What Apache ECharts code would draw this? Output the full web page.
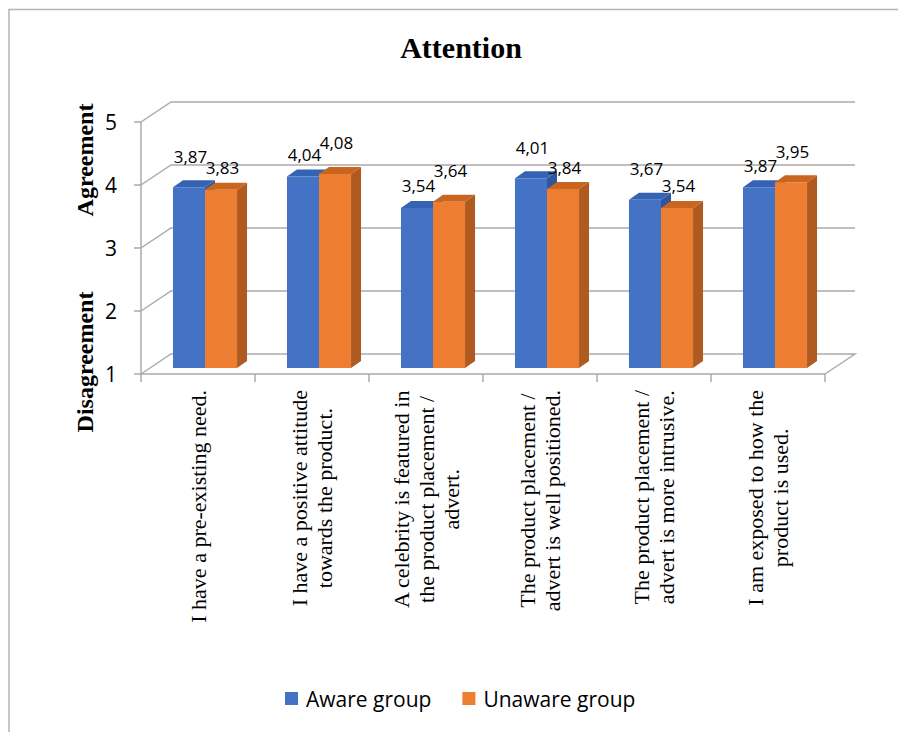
<!DOCTYPE html>
<html><head><meta charset="utf-8">
<script src="https://cdn.jsdelivr.net/npm/echarts@6/dist/echarts.min.js"></script>
<style>html,body{margin:0;padding:0;background:#fff}#c{width:898px;height:732px}</style>
</head><body><div id="c"></div>
<script>
// ---- data ----
const chartTitle = "Attention";
const categories = [
  "I have a pre-existing need.",
  "I have a positive attitude\ntowards the product.",
  "A celebrity is featured in\nthe product placement /\nadvert.",
  "The product placement /\nadvert is well positioned.",
  "The product placement /\nadvert is more intrusive.",
  "I am exposed to how the\nproduct is used."
];
const seriesNames = ["Aware group", "Unaware group"];
const awareGroup = [3.87, 4.04, 3.54, 4.01, 3.67, 3.87];
const unawareGroup = [3.83, 4.08, 3.64, 3.84, 3.54, 3.95];
const yTicks = [1, 2, 3, 4, 5];
const yNameTop = "Agreement";
const yNameBottom = "Disagreement";

// ---- style ----
const GRID = '#ABABAB';
const DX = 30, DY = -20;           // depth of the 3D walls
const BAR_OFF_X = 7, BAR_OFF_Y = -6; // bars sit inside the floor depth
const BAR_DX = 10, BAR_DY = -7;    // bar depth
const BAR_FRAC = 0.281;
const palettes = [
  {front: '#4472C4', side: '#2F559A', top: '#3563B4'},
  {front: '#ED7D31', side: '#AE5A21', top: '#C9651F'}
];
const fmt = v => v.toFixed(2).replace('.', ',');
const allSeries = [awareGroup, unawareGroup];

function wallRender(params, api) {
  const v = api.value(1);
  const cs = params.coordSys;
  const y = api.coord([0, v])[1];
  const xl = cs.x, xr = cs.x + cs.width;
  const pts = [[xl, y], [xl + DX, y + DY], [xr + DX, y + DY]];
  if (v === yTicks[0]) pts.push([xr, y]);
  return {type: 'polyline', shape: {points: pts},
          style: {stroke: GRID, lineWidth: 1.5, fill: 'none'}};
}

function barRender(sIdx) {
  const pal = palettes[sIdx];
  const other = allSeries[1 - sIdx];
  return function (params, api) {
    const i = api.value(0), v = api.value(1);
    const band = api.size([1, 0])[0];
    const w = band * BAR_FRAC;
    const c = api.coord([i, v]);
    const b = api.coord([i, yTicks[0]]);
    const x0 = c[0] - (sIdx === 0 ? w : 0) + BAR_OFF_X;
    const x1 = x0 + w;
    const yT = c[1] + BAR_OFF_Y, yB = b[1] + BAR_OFF_Y;
    const taller = v >= other[i];
    return {
      type: 'group',
      children: [
        {type: 'polygon', shape: {points: [[x1, yT], [x1 + BAR_DX, yT + BAR_DY], [x1 + BAR_DX, yB + BAR_DY], [x1, yB]]},
         style: {fill: pal.side}},
        {type: 'polygon', shape: {points: [[x0, yT], [x0 + BAR_DX, yT + BAR_DY], [x1 + BAR_DX, yT + BAR_DY], [x1, yT]]},
         style: {fill: pal.top}},
        {type: 'rect', shape: {x: x0, y: yT, width: w, height: yB - yT}, style: {fill: pal.front}},
        {type: 'text', x: x0 + w / 2 + 1.5, y: yT - (taller ? 31 : 22), z2: 100,
         style: {text: fmt(v), fill: '#000', font: '17px "Open Sans"', align: 'center', verticalAlign: 'middle'}}
      ]
    };
  };
}

const chart = echarts.init(document.getElementById('c'), null, {renderer: 'svg'});
chart.setOption({
  backgroundColor: '#fff',
  animation: false,
  grid: {left: 141, right: 73, top: 122, bottom: 358, containLabel: false},
  xAxis: {
    type: 'category', data: categories,
    axisLine: {show: true, lineStyle: {color: GRID, width: 1.5}},
    axisTick: {show: true, length: 8, lineStyle: {color: GRID, width: 1.5}},
    splitLine: {show: false},
    axisLabel: {
      interval: 0, rotate: 90, margin: 16, color: '#000',
      fontFamily: 'Liberation Serif', fontSize: 22, lineHeight: 25,
      formatter: s => s.split('\n').map(l => '{c|' + l + '}').join('\n'),
      rich: {c: {align: 'center', fontFamily: 'Liberation Serif', fontSize: 22, lineHeight: 25, color: '#000'}}
    }
  },
  yAxis: {
    type: 'value', min: 1, max: 5, interval: 1,
    axisLine: {show: true, lineStyle: {color: GRID, width: 1.5}},
    axisTick: {show: true, length: 7, lineStyle: {color: GRID, width: 1.5}},
    splitLine: {show: false},
    axisLabel: {color: '#000', fontFamily: 'Open Sans', fontSize: 21, margin: 24}
  },
  legend: {
    data: seriesNames, left: 280, top: 683, icon: 'rect',
    itemWidth: 13, itemHeight: 13, itemGap: 31,
    textStyle: {color: '#000', fontFamily: 'Open Sans', fontSize: 21, padding: [0, 0, 0, 3]}
  },
  graphic: [
    {type: 'rect', shape: {x: 9, y: 9.5, width: 1000, height: 1000},
     style: {fill: 'none', stroke: '#B4B4B4', lineWidth: 1.5}, silent: true},
    {type: 'text', x: 461, y: 47,
     style: {text: chartTitle, font: 'bold 30px "Liberation Serif"', fill: '#000', align: 'center', verticalAlign: 'middle'}},
    {type: 'text', x: 85, y: 160, rotation: Math.PI / 2,
     style: {text: yNameTop, font: 'bold 24px "Liberation Serif"', fill: '#000', align: 'center', verticalAlign: 'middle'}},
    {type: 'text', x: 85, y: 362, rotation: Math.PI / 2,
     style: {text: yNameBottom, font: 'bold 24px "Liberation Serif"', fill: '#000', align: 'center', verticalAlign: 'middle'}}
  ],
  series: [
    {type: 'custom', name: 'walls', silent: true, z: 1,
     data: yTicks.map(v => [0, v]), renderItem: wallRender},
    {type: 'custom', name: seriesNames[0], z: 2, itemStyle: {color: palettes[0].front},
     data: awareGroup.map((v, i) => [i, v]), renderItem: barRender(0)},
    {type: 'custom', name: seriesNames[1], z: 3, itemStyle: {color: palettes[1].front},
     data: unawareGroup.map((v, i) => [i, v]), renderItem: barRender(1)}
  ]
});
</script></body></html>
